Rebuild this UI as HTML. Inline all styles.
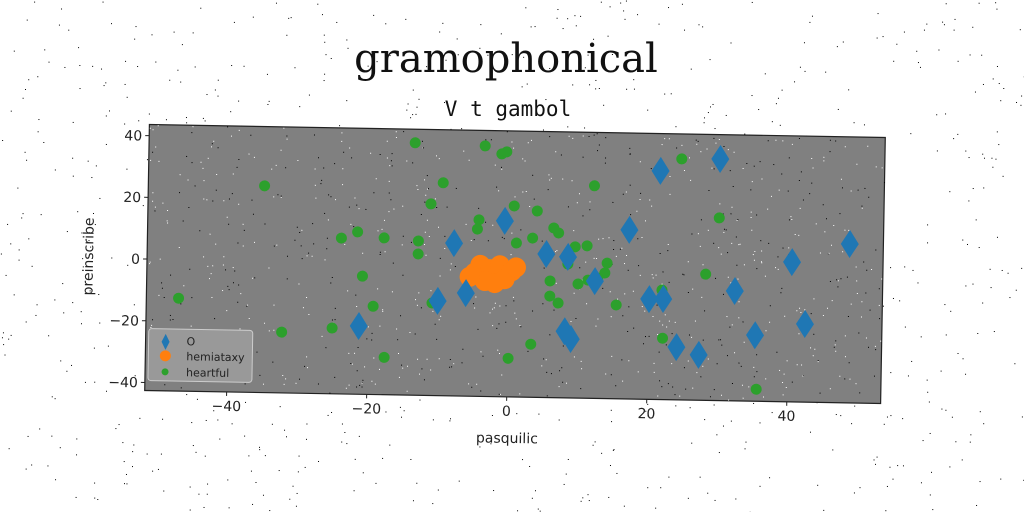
<!DOCTYPE html>
<html><head><meta charset="utf-8"><style>
html,body{margin:0;padding:0;background:#fff;}
svg{display:block;}
text{font-family:"DejaVu Sans","Liberation Sans",sans-serif;}
</style></head><body>
<svg id="chart" width="1024" height="512" viewBox="0 0 1024 512" xmlns="http://www.w3.org/2000/svg">
<rect width="1024" height="512" fill="#fff"/>
<g id="bgnoise"></g>
<text x="506" y="72" text-anchor="middle" font-size="40" style="font-family:'DejaVu Serif','Liberation Serif',serif" fill="#111">gramophonical</text>
<text x="508" y="116" text-anchor="middle" font-size="21" style="font-family:'DejaVu Sans Mono','Liberation Mono',monospace" fill="#111">V t gambol</text>
<g transform="rotate(1.01 515 264)">
<rect x="147" y="131" width="736" height="266" fill="#808080" stroke="#222" stroke-width="1.2"/>
<g id="noise"></g>
<g id="axes"></g>
<g id="marks"></g>
<text x="510" y="443" text-anchor="middle" font-size="14" fill="#222">pasquilic</text>
<text transform="translate(93 264) rotate(-90)" text-anchor="middle" font-size="14" fill="#222">preinscribe</text>
<g>
<rect x="150" y="335" width="104" height="52" rx="3" fill="#999" stroke="#ccc"/>
<path d="M167 340 L171 348 L167 356 L163 348 Z" fill="#1f77b4"/>
<text x="188" y="351" font-size="11" fill="#222">O</text>
<circle cx="167" cy="362" r="5.5" fill="#ff7f0e"/>
<text x="188" y="366" font-size="11" fill="#222">hemiataxy</text>
<circle cx="167" cy="378" r="3.5" fill="#2ca02c"/>
<text x="188" y="382" font-size="11" fill="#222">heartful</text>
</g>
</g>
</svg>
<script>
const xTicks=[-40,-20,0,20,40];
const yTicks=[-40,-20,0,20,40];
const oX=[-0.7,-7.9,21.4,29.9,5.3,17.1,48.6,40.4,12.3,-6.1,-10.1,-21.3,20.1,22.1,32.3,35.3,42.4,24.1,27.3,8.1,9.0,8.4];
const oY=[14.4,6.9,31.5,35.7,3.9,12.2,8.9,2.7,-4.6,-9.2,-11.9,-20.5,-10.1,-10.0,-7.0,-21.2,-17.3,-25.5,-27.9,-21.0,-23.5,3.1];
const hX=[-4.9,-4.1,-2.7,-1.3,0.4,-0.6,-3.4,-2.0,-5.6,1.0];
const hY=[-2.6,0,-1.3,0,-1.9,-4.5,-5.2,-5.8,-3.9,-0.6];
const gX=[-13.7,-3.7,-1.3,-0.6,-9.6,-35.1,-11.3,0.6,-4.4,-4.6,1.0,-24.0,-21.7,-17.9,-13.0,-13.0,-20.9,-47.1,-19.3,-10.9,-32.3,-25.1,-17.6,0.1,-0.9,24.4,29.9,12.0,3.9,6.3,7.0,3.3,9.4,11.1,8.4,8.4,14.0,13.7,12.7,11.3,9.9,5.9,5.9,7.1,15.4,21.9,28.1,22.1,3.3,35.6];
const gY=[39.2,38.6,36.1,36.8,26.4,24.4,19.5,19.3,14.6,11.6,7.3,7.9,10.0,8.2,7.4,3.2,-4.3,-12.5,-14.0,-12.6,-22.9,-21.3,-30.5,-30.1,-5.7,35.5,16.6,26.3,17.8,12.4,10.8,9.0,6.4,6.8,3.4,0.8,1.3,-1.9,-3.6,-4.3,-5.6,-4.8,-9.7,-11.9,-12.2,-7.1,-1.7,-22.7,-25.4,-38.7];
const X0=-51.7,X1=53.4,Y0=-42.6,Y1=43.6,L=147,T=131,W=736,H=266;
const sx=v=>L+(v-X0)/(X1-X0)*W;
const sy=v=>T+(Y1-v)/(Y1-Y0)*H;
const NS="http://www.w3.org/2000/svg";
function mk(tag,attrs,parent){const e=document.createElementNS(NS,tag);for(const k in attrs)e.setAttribute(k,attrs[k]);parent.appendChild(e);return e;}
const axes=document.getElementById('axes');
xTicks.forEach(t=>{
 const l=mk('line',{x1:sx(t),x2:sx(t),y1:T+H,y2:T+H+4,stroke:'#222'},axes);
 
 
 const tx=mk('text',{x:sx(t),y:T+H+19,'text-anchor':'middle','font-size':14,fill:'#222'},axes);
 tx.textContent=(t<0?'\u2212':'')+Math.abs(t);
 
 
});
yTicks.forEach(t=>{
 const l=mk('line',{x1:L-4,x2:L,y1:sy(t),y2:sy(t),stroke:'#222'},axes);
 
 
 const tx=mk('text',{x:L-7,y:sy(t)+5,'text-anchor':'end','font-size':14,fill:'#222'},axes);
 tx.textContent=(t<0?'\u2212':'')+Math.abs(t);
 
 
});
const marks=document.getElementById('marks');
gX.forEach((v,i)=>{
 const c=mk('circle',{cx:sx(v),cy:sy(gY[i]),r:5.5,fill:'#2ca02c'},marks);
 
 
});
hX.forEach((v,i)=>{
 const c=mk('circle',{cx:sx(v),cy:sy(hY[i]),r:10,fill:'#ff7f0e'},marks);
 
 
});
oX.forEach((v,i)=>{
 const x=sx(v),y=sy(oY[i]);
 const p=mk('path',{d:`M${x} ${y-14}L${x+9} ${y}L${x} ${y+14}L${x-9} ${y}Z`,fill:'#1f77b4'},marks);
 
 
});
// decorative speckle noise (seeded)
let s=12345;const rnd=()=>{s=(s*1103515245+12345)%2147483648;return s/2147483648;};
const nz=document.getElementById('noise');
for(let i=0;i<900;i++){mk('rect',{x:L+rnd()*W,y:T+rnd()*H,width:1,height:1,fill:rnd()<0.55?'#fff':'#000'},nz);}
const bn=document.getElementById('bgnoise');
for(let i=0;i<900;i++){mk('rect',{x:rnd()*1024,y:rnd()*512,width:1,height:1,fill:'#000'},bn);}
</script>
</body></html>
